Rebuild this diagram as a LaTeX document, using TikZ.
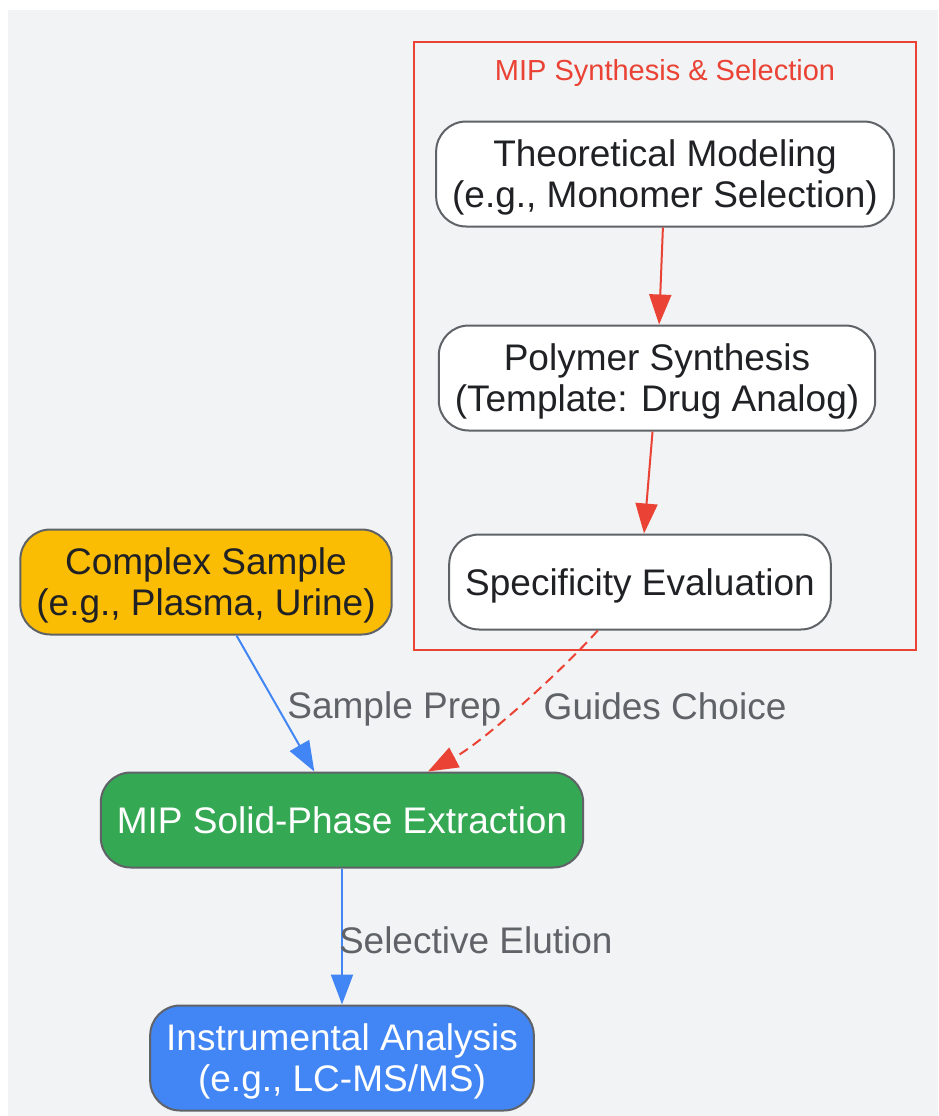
\documentclass[tikz,border=0pt]{standalone}
\usepackage{fontspec}
\setmainfont{Liberation Sans}
\usepackage{tikz}
\usetikzlibrary{calc}
\usetikzlibrary{arrows.meta}
\usetikzlibrary{positioning}

\definecolor{bggray}{HTML}{F1F3F4}
\definecolor{edgegray}{HTML}{5F6368}
\definecolor{textdark}{HTML}{202124}
\definecolor{gred}{HTML}{EA4335}
\definecolor{gyellow}{HTML}{FBBC04}
\definecolor{ggreen}{HTML}{34A853}
\definecolor{gblue}{HTML}{4285F4}

\tikzset{
  stage/.style={draw=edgegray, line width=2pt, rounded corners=30pt,
    align=center, inner xsep=16pt, inner ysep=0pt, minimum height=105pt,
    text depth=0pt, font=\fontsize{37}{41}\selectfont, text=textdark},
  stageone/.style={stage, minimum height=95pt},
  clusterline/.style={draw=gred, line width=2pt},
  clustertitle/.style={text=gred, font=\fontsize{29}{33}\selectfont, inner sep=0pt},
  blueflow/.style={draw=gblue, line width=2pt, -{Triangle[length=30pt,width=22pt]}},
  redflow/.style={draw=gred, line width=2pt, -{Triangle[length=30pt,width=22pt]}},
  flowlabel/.style={text=edgegray, font=\fontsize{37}{41}\selectfont, inner sep=0pt}
}

\begin{document}
\begin{tikzpicture}[x=1pt,y=1pt]
  \useasboundingbox (0,0) rectangle (938,-1116);
  \fill[bggray] (8,-10) rectangle (938,-1116);

  % synthesis cluster
  \draw[clusterline] (414,-42) rectangle (916,-650);
  \node[clustertitle] (title) at (665,-73) {MIP Synthesis \& Selection};

  \node[stage, fill=white] (model) at (665,-174) {Theoretical Modeling\\(e.g., Monomer Selection)};
  \node[stage, fill=white] (synth) at (657,-378) {Polymer Synthesis\\(Template: Drug Analog)};
  \node[stageone, fill=white] (spec) at (640,-582) {Specificity Evaluation};

  % main line
  \node[stage, fill=gyellow] (sample) at (206,-582) {Complex Sample\\(e.g., Plasma, Urine)};
  \node[stageone, fill=ggreen, text=white] (spe) at (342,-820) {MIP Solid-Phase Extraction};
  \node[stage, fill=gblue, text=white] (instr) at (342,-1058) {Instrumental Analysis\\(e.g., LC-MS/MS)};

  \draw[redflow] (model) -- (synth);
  \draw[redflow] (synth) -- (spec);
  \draw[blueflow] (sample) -- node[flowlabel, anchor=west, xshift=11pt, yshift=-5pt] (prep) {Sample Prep} (spe);
  \draw[redflow, dash pattern=on 10pt off 6pt]
    ($(spec.south)!0.22!(spec.south west)$) to[out=228, in=28, looseness=0.7]
    node[flowlabel, anchor=west, xshift=25pt, yshift=1pt] (guide) {Guides Choice}
    ($(spe.north)!0.355!(spe.north east)$);
  \draw[blueflow] (spe) -- node[flowlabel, anchor=west, xshift=-4pt, yshift=-4pt] (elute) {Selective Elution} (instr);
\end{tikzpicture}
\end{document}
